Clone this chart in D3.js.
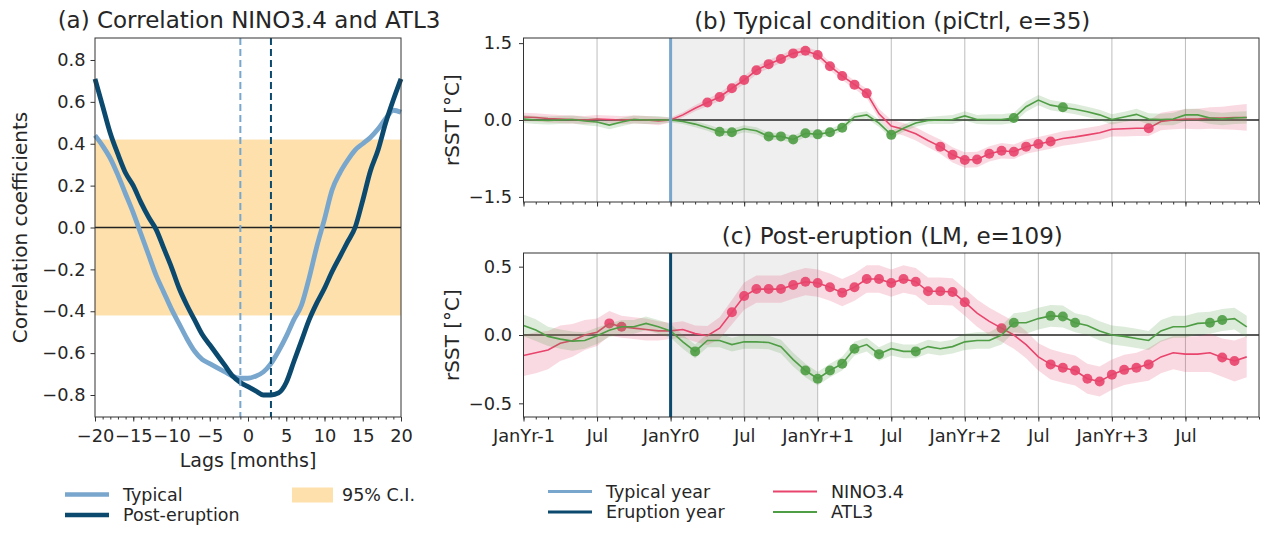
<!DOCTYPE html>
<html>
<head>
<meta charset="utf-8">
<script src="https://cdn.jsdelivr.net/npm/d3@7"></script>
<style>
body { margin: 0; background: #fff; }
svg text { font-family: "DejaVu Sans", sans-serif; fill: #262626; }
</style>
</head>
<body>
<div id="chart"></div>
<script>
// ---- panel (a) data: lag correlation NINO3.4 vs ATL3
var lags = d3.range(-20, 21);
var corrTypical = [0.44, 0.39, 0.33, 0.25, 0.16, 0.07, -0.03, -0.13, -0.23, -0.31,
    -0.39, -0.46, -0.53, -0.59, -0.63, -0.65, -0.67, -0.69, -0.71, -0.72,
    -0.72, -0.71, -0.69, -0.65, -0.59, -0.52, -0.44, -0.37, -0.24, -0.09,
    0.04, 0.18, 0.26, 0.32, 0.37, 0.40, 0.43, 0.47, 0.52, 0.56, 0.55];
var corrPost = [0.71, 0.58, 0.45, 0.35, 0.26, 0.20, 0.12, 0.05, -0.01, -0.10,
    -0.19, -0.29, -0.37, -0.44, -0.51, -0.56, -0.61, -0.66, -0.71, -0.74,
    -0.76, -0.78, -0.80, -0.80, -0.79, -0.74, -0.64, -0.54, -0.44, -0.36,
    -0.29, -0.21, -0.14, -0.07, 0.00, 0.13, 0.27, 0.37, 0.50, 0.61, 0.71];
var ciLevel = 0.42;
var typicalLag = -1;
var eruptionLag = 3;

// ---- panels (b) and (c): composite rSST, months from JanYr-1
var months = d3.range(0, 60);
var monthTicks = [0, 6, 12, 18, 24, 30, 36, 42, 48, 54];
var monthTickLabels = ["JanYr-1", "Jul", "JanYr0", "Jul", "JanYr+1", "Jul", "JanYr+2", "Jul", "JanYr+3", "Jul"];
var eventMonth = 12;
var shadeMonths = [12, 24];

// (b) typical condition
var ninoTyp = [0.06, 0.05, 0.03, 0.02, 0.01, 0.00, 0.02, 0.01, 0.00, 0.01, 0.00, -0.02,
    0.00, 0.10, 0.23, 0.34, 0.45, 0.62, 0.78, 0.97, 1.09, 1.19, 1.30, 1.35,
    1.27, 1.05, 0.86, 0.69, 0.52, 0.12, -0.12, -0.18, -0.27, -0.40, -0.52, -0.68,
    -0.78, -0.77, -0.66, -0.60, -0.62, -0.52, -0.47, -0.42, -0.36, -0.33, -0.29, -0.25,
    -0.18, -0.17, -0.16, -0.16, -0.03, 0.00, 0.02, 0.02, 0.04, 0.04, 0.05, 0.05];
var ninoTypErr = [0.08, 0.08, 0.08, 0.08, 0.08, 0.08, 0.08, 0.08, 0.08, 0.08, 0.08, 0.08,
    0.05, 0.05, 0.06, 0.07, 0.08, 0.08, 0.08, 0.08, 0.08, 0.08, 0.08, 0.08,
    0.08, 0.08, 0.08, 0.08, 0.09, 0.10, 0.12, 0.12, 0.13, 0.13, 0.14, 0.15,
    0.15, 0.15, 0.15, 0.15, 0.14, 0.14, 0.14, 0.14, 0.14, 0.14, 0.14, 0.14,
    0.14, 0.15, 0.15, 0.15, 0.17, 0.18, 0.19, 0.20, 0.21, 0.22, 0.24, 0.26];
var ninoTypSig = [15, 16, 17, 18, 19, 20, 21, 22, 23, 24, 25, 26, 27, 28, 34, 35, 36, 37, 38, 39, 40, 41, 42, 43, 51];

var atlTyp = [0.02, 0.00, -0.01, 0.00, 0.01, -0.02, -0.04, -0.10, -0.04, 0.01, 0.00, 0.00,
    0.00, -0.03, -0.08, -0.15, -0.23, -0.24, -0.17, -0.21, -0.32, -0.32, -0.38, -0.26,
    -0.28, -0.24, -0.15, 0.06, 0.10, -0.06, -0.29, -0.16, -0.06, -0.01, 0.00, 0.01,
    0.08, 0.01, 0.01, 0.01, 0.04, 0.26, 0.39, 0.29, 0.25, 0.21, 0.16, 0.10,
    0.01, 0.06, 0.11, 0.02, 0.01, 0.02, 0.10, 0.10, 0.04, 0.02, 0.04, 0.05];
var atlTypErr = [0.08, 0.08, 0.08, 0.08, 0.08, 0.08, 0.08, 0.08, 0.08, 0.08, 0.08, 0.08,
    0.05, 0.05, 0.06, 0.06, 0.07, 0.07, 0.07, 0.07, 0.07, 0.07, 0.07, 0.07,
    0.07, 0.07, 0.07, 0.07, 0.07, 0.07, 0.07, 0.07, 0.07, 0.07, 0.08, 0.09,
    0.09, 0.09, 0.10, 0.10, 0.10, 0.10, 0.10, 0.10, 0.10, 0.10, 0.10, 0.10,
    0.10, 0.10, 0.11, 0.11, 0.11, 0.12, 0.12, 0.12, 0.12, 0.12, 0.12, 0.12];
var atlTypSig = [16, 17, 20, 21, 22, 23, 24, 25, 26, 30, 40, 44];

// (c) post-eruption
var ninoPost = [-0.15, -0.13, -0.11, -0.06, -0.04, 0.00, 0.02, 0.085, 0.06, 0.05, 0.04, 0.03,
    0.03, 0.04, 0.01, -0.005, 0.05, 0.166, 0.285, 0.336, 0.336, 0.336, 0.366, 0.39,
    0.38, 0.35, 0.31, 0.35, 0.41, 0.41, 0.38, 0.41, 0.39, 0.32, 0.32, 0.315,
    0.24, 0.16, 0.10, 0.05, 0.00, -0.07, -0.16, -0.215, -0.24, -0.26, -0.32, -0.34,
    -0.29, -0.255, -0.24, -0.215, -0.16, -0.13, -0.14, -0.14, -0.13, -0.165, -0.19, -0.16];
var ninoPostErr = [0.15, 0.15, 0.14, 0.13, 0.12, 0.11, 0.10, 0.09, 0.08, 0.08, 0.08, 0.07,
    0.06, 0.06, 0.06, 0.07, 0.08, 0.09, 0.10, 0.10, 0.10, 0.10, 0.10, 0.10,
    0.10, 0.10, 0.10, 0.10, 0.10, 0.10, 0.10, 0.10, 0.10, 0.10, 0.10, 0.10,
    0.10, 0.10, 0.10, 0.10, 0.10, 0.10, 0.10, 0.11, 0.11, 0.11, 0.11, 0.11,
    0.11, 0.11, 0.11, 0.12, 0.12, 0.12, 0.13, 0.13, 0.14, 0.14, 0.15, 0.15];
var ninoPostSig = [7, 8, 17, 18, 19, 20, 21, 22, 23, 24, 25, 26, 27, 28, 29, 30, 31, 32, 33, 34, 35, 36,
    39, 43, 44, 45, 46, 47, 48, 49, 50, 51, 57, 58];

var atlPost = [0.07, 0.036, -0.01, -0.03, -0.045, -0.04, -0.005, 0.035, 0.06, 0.06, 0.085, 0.06,
    0.03, -0.05, -0.12, -0.04, -0.04, -0.07, -0.05, -0.05, -0.055, -0.085, -0.18, -0.26,
    -0.32, -0.26, -0.21, -0.10, -0.07, -0.14, -0.10, -0.12, -0.12, -0.085, -0.10, -0.085,
    -0.05, -0.04, -0.04, 0.00, 0.09, 0.09, 0.12, 0.14, 0.135, 0.09, 0.07, 0.03,
    0.00, -0.01, -0.025, -0.04, 0.03, 0.06, 0.06, 0.085, 0.09, 0.11, 0.12, 0.06];
var atlPostErr = [0.08, 0.08, 0.07, 0.07, 0.07, 0.06, 0.06, 0.05, 0.05, 0.05, 0.05, 0.05,
    0.05, 0.05, 0.05, 0.05, 0.05, 0.05, 0.05, 0.05, 0.05, 0.05, 0.05, 0.05,
    0.05, 0.05, 0.05, 0.05, 0.05, 0.05, 0.05, 0.05, 0.05, 0.05, 0.05, 0.05,
    0.06, 0.06, 0.06, 0.07, 0.07, 0.08, 0.08, 0.08, 0.08, 0.07, 0.07, 0.07,
    0.07, 0.07, 0.07, 0.07, 0.08, 0.08, 0.08, 0.08, 0.08, 0.08, 0.08, 0.08];
var atlPostSig = [14, 23, 24, 25, 26, 27, 29, 32, 40, 43, 44, 45, 56, 57];

// colours
var cTypical = "#78a6cd";
var cPost = "#0b4a6e";
var cNino = "#e8446c";
var cAtl = "#4f9d45";
var cCI = "#fde0ab";

var svgWidth = 1268;
var svgHeight = 534;
var tickFont = "17.8px";
var labelFont = "19px";
var legendFont = "17.5px";
var yLabelFont = "20px";
var titleFont = "23px";

var svg = d3.select("#chart")
    .append("svg")
    .attr("width", svgWidth)
    .attr("height", svgHeight);

// helper: style axis ticks
function styleAxis(g) {
    g.select(".domain").remove();
    g.selectAll(".tick line").attr("stroke", "#333").attr("stroke-width", 1);
    g.selectAll(".tick text").style("font-size", tickFont).attr("fill", "#262626");
}

// =================== panel (a)
var a = { left: 95, right: 401, top: 38, bottom: 417 };

var xA = d3.scaleLinear().domain([-20, 20]).range([a.left, a.right]);
var yA = d3.scaleLinear().domain([-0.905, 0.905]).range([a.bottom, a.top]);

// 95% CI band
svg.append("rect")
    .attr("x", a.left)
    .attr("width", a.right - a.left)
    .attr("y", yA(ciLevel))
    .attr("height", yA(-ciLevel) - yA(ciLevel))
    .attr("fill", cCI);

svg.append("line")
    .attr("x1", a.left).attr("x2", a.right)
    .attr("y1", yA(0)).attr("y2", yA(0))
    .attr("stroke", "#222").attr("stroke-width", 1.6);

var lineA = d3.line()
    .x((d, i) => xA(lags[i]))
    .y(d => yA(d))
    .curve(d3.curveMonotoneX);

svg.append("path")
    .datum(corrTypical)
    .attr("d", lineA)
    .attr("fill", "none")
    .attr("stroke", cTypical)
    .attr("stroke-width", 4.8);

svg.append("path")
    .datum(corrPost)
    .attr("d", lineA)
    .attr("fill", "none")
    .attr("stroke", cPost)
    .attr("stroke-width", 4.8);

// dashed lag markers
[[typicalLag, cTypical], [eruptionLag, cPost]].forEach(d => {
    svg.append("line")
        .attr("x1", xA(d[0])).attr("x2", xA(d[0]))
        .attr("y1", a.top).attr("y2", a.bottom)
        .attr("stroke", d[1])
        .attr("stroke-width", 2)
        .attr("stroke-dasharray", "7,4");
});

// minor ticks
svg.append("g")
    .attr("transform", `translate(0, ${a.bottom})`)
    .call(d3.axisBottom(xA).tickValues(d3.range(-20, 21, 1)).tickSize(2.5).tickFormat(""))
    .call(styleAxis);

svg.append("g")
    .attr("transform", `translate(0, ${a.bottom})`)
    .call(d3.axisBottom(xA).tickValues(d3.range(-20, 21, 5)).tickSize(4.5).tickPadding(8).tickFormat(d3.format("d")))
    .call(styleAxis);

svg.append("g")
    .attr("transform", `translate(${a.left}, 0)`)
    .call(d3.axisLeft(yA).tickValues([-0.8, -0.6, -0.4, -0.2, 0, 0.2, 0.4, 0.6, 0.8]).tickSize(4.5).tickPadding(5).tickFormat(d3.format(".1f")))
    .call(styleAxis);

svg.append("rect")
    .attr("x", a.left).attr("y", a.top)
    .attr("width", a.right - a.left).attr("height", a.bottom - a.top)
    .attr("fill", "none").attr("stroke", "#333").attr("stroke-width", 1);

svg.append("text")
    .attr("x", (a.left + a.right) / 2 + 1)
    .attr("y", 28)
    .attr("text-anchor", "middle")
    .style("font-size", titleFont)
    .text("(a) Correlation NINO3.4 and ATL3");

svg.append("text")
    .attr("x", (a.left + a.right) / 2)
    .attr("y", 467)
    .attr("text-anchor", "middle")
    .style("font-size", labelFont)
    .text("Lags [months]");

svg.append("text")
    .attr("transform", `translate(27, ${(a.top + a.bottom) / 2}) rotate(-90)`)
    .attr("text-anchor", "middle")
    .style("font-size", yLabelFont)
    .text("Correlation coefficients");

// =================== panels (b) and (c)
var xM = d3.scaleLinear().domain([0, 60]).range([523.5, 1259]);

function drawPanel(box, yMax, yTicks, vColor, series, title, showLabels) {
    var y = d3.scaleLinear().domain([-yMax, yMax]).range([box.bottom, box.top]);
    var g = svg.append("g");

    // first year after event shading
    g.append("rect")
        .attr("x", xM(shadeMonths[0]))
        .attr("width", xM(shadeMonths[1]) - xM(shadeMonths[0]))
        .attr("y", box.top).attr("height", box.bottom - box.top)
        .attr("fill", "#efefef");

    // vertical grid
    g.selectAll(".grid")
        .data(monthTicks)
        .enter()
        .append("line")
        .attr("x1", d => xM(d)).attr("x2", d => xM(d))
        .attr("y1", box.top).attr("y2", box.bottom)
        .attr("stroke", "#bdbdbd").attr("stroke-width", 1);

    g.append("line")
        .attr("x1", xM(0)).attr("x2", xM(60))
        .attr("y1", y(0)).attr("y2", y(0))
        .attr("stroke", "#222").attr("stroke-width", 1.6);

    series.forEach(s => {
        var area = d3.area()
            .x((d, i) => xM(months[i]))
            .y0((d, i) => y(d - s.err[i]))
            .y1((d, i) => y(d + s.err[i]));
        g.append("path")
            .datum(s.values)
            .attr("d", area)
            .attr("fill", s.color)
            .attr("fill-opacity", 0.2);

        var line = d3.line()
            .x((d, i) => xM(months[i]))
            .y(d => y(d));
        g.append("path")
            .datum(s.values)
            .attr("d", line)
            .attr("fill", "none")
            .attr("stroke", s.color)
            .attr("stroke-width", 1.6);

        g.selectAll(null)
            .data(s.sig)
            .enter()
            .append("circle")
            .attr("cx", d => xM(months[d]))
            .attr("cy", d => y(s.values[d]))
            .attr("r", 5)
            .attr("fill", s.color)
            .attr("fill-opacity", 0.9);
    });

    g.append("line")
        .attr("x1", xM(eventMonth)).attr("x2", xM(eventMonth))
        .attr("y1", box.top).attr("y2", box.bottom)
        .attr("stroke", vColor).attr("stroke-width", 3);

    // axes
    g.append("g")
        .attr("transform", `translate(0, ${box.bottom})`)
        .call(d3.axisBottom(xM).tickValues(months.concat([60])).tickSize(2.5).tickFormat(""))
        .call(styleAxis);

    g.append("g")
        .attr("transform", `translate(0, ${box.bottom})`)
        .call(d3.axisBottom(xM).tickValues(monthTicks).tickSize(4.5).tickPadding(8)
            .tickFormat((d, i) => showLabels ? monthTickLabels[i] : ""))
        .call(styleAxis);

    g.append("g")
        .attr("transform", `translate(${xM(0)}, 0)`)
        .call(d3.axisLeft(y).tickValues(yTicks).tickSize(4.5).tickPadding(7).tickFormat(d3.format(".1f")))
        .call(styleAxis);

    g.append("rect")
        .attr("x", xM(0)).attr("y", box.top)
        .attr("width", xM(60) - xM(0)).attr("height", box.bottom - box.top)
        .attr("fill", "none").attr("stroke", "#333").attr("stroke-width", 1);

    g.append("text")
        .attr("x", (xM(0) + xM(60)) / 2 + 1)
        .attr("y", box.top - 9)
        .attr("text-anchor", "middle")
        .style("font-size", titleFont)
        .text(title);

    g.append("text")
        .attr("transform", `translate(459, ${(box.top + box.bottom) / 2}) rotate(-90)`)
        .attr("text-anchor", "middle")
        .style("font-size", yLabelFont)
        .text("rSST [°C]");
}

drawPanel({ top: 38, bottom: 202 }, 1.6, [-1.5, 0, 1.5], cTypical,
    [{ values: ninoTyp, err: ninoTypErr, sig: ninoTypSig, color: cNino },
     { values: atlTyp, err: atlTypErr, sig: atlTypSig, color: cAtl }],
    "(b) Typical condition (piCtrl, e=35)", false);

drawPanel({ top: 253, bottom: 417 }, 0.6, [-0.5, 0, 0.5], cPost,
    [{ values: ninoPost, err: ninoPostErr, sig: ninoPostSig, color: cNino },
     { values: atlPost, err: atlPostErr, sig: atlPostSig, color: cAtl }],
    "(c) Post-eruption (LM, e=109)", true);

// =================== legends
function legendLine(x, y, color, width, label) {
    svg.append("line")
        .attr("x1", x).attr("x2", x + 44)
        .attr("y1", y).attr("y2", y)
        .attr("stroke", color).attr("stroke-width", width);
    svg.append("text")
        .attr("x", x + 58).attr("y", y)
        .attr("dy", "0.35em")
        .style("font-size", legendFont)
        .text(label);
}

legendLine(65, 494.5, cTypical, 4.5, "Typical");
legendLine(65, 515, cPost, 4.5, "Post-eruption");
svg.append("rect")
    .attr("x", 292).attr("y", 487.5)
    .attr("width", 41).attr("height", 15)
    .attr("fill", cCI);
svg.append("text")
    .attr("x", 342).attr("y", 494.5)
    .attr("dy", "0.35em")
    .style("font-size", legendFont)
    .text("95% C.I.");

legendLine(548, 491.5, cTypical, 3, "Typical year");
legendLine(548, 512, cPost, 3, "Eruption year");
legendLine(773, 491.5, cNino, 2, "NINO3.4");
legendLine(773, 512, cAtl, 2, "ATL3");
</script>
</body>
</html>
